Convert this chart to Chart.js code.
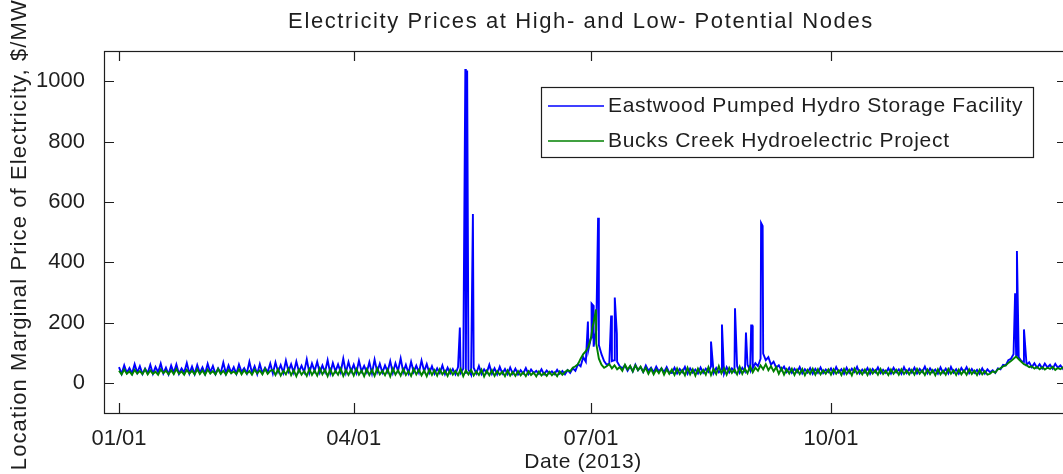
<!DOCTYPE html>
<html>
<head>
<meta charset="utf-8">
<script src="https://cdn.jsdelivr.net/npm/chart.js@4"></script>
<style>
  html, body { margin: 0; padding: 0; background: #fff; overflow: hidden; }
  canvas { display: block; }
</style>
</head>
<body>
<canvas id="chart" width="1070" height="474"></canvas>
<script>
// x axis is day-of-year 2013 (0 = Jan 1)
var tickDays   = [0, 90, 181, 273];
var tickLabels = ['01/01', '04/01', '07/01', '10/01'];
var yTicks     = [0, 200, 400, 600, 800, 1000];

var seriesNames = ['Eastwood Pumped Hydro Storage Facility', 'Bucks Creek Hydroelectric Project'];
var seriesColors = ['#0000ff', '#008000'];

// daily readings, $/MWh (Jan .. Dec)
var blueDaily = [
  52,30,58,33,49,31,62,34,55,29,47,32,60,30,53,35,64,31,50,28,57,33,61,30,48,34,66,31,54,29,59,
  33,51,30,63,35,56,29,48,32,67,31,58,34,52,30,61,36,49,31,70,33,55,29,62,32,50,35,64,
  31,68,36,59,33,74,38,62,34,71,37,57,35,78,33,64,39,70,34,58,36,75,32,66,38,61,35,80,34,69,37,
  60,33,73,38,56,35,68,31,77,36,63,34,58,37,72,33,65,39,81,35,60,32,70,36,57,34,74,38,62,33,
  55,30,48,32,58,29,50,31,46,28,52,33,47,30,44,27,50,31,56,29,45,33,60,30,48,28,53,31,46,29,51,
  30,47,28,42,31,49,29,44,32,40,30,45,28,41,31,38,29,43,30,39,28,42,33,48,40,62,55,85,70,110,
  150,120,175,125,95,72,60,65,72,75,70,55,48,58,40,55,38,60,42,52,36,57,40,50,35,54,38,48,36,52,34,
  33,50,31,46,35,53,30,48,34,44,31,51,33,47,36,55,32,49,35,45,30,52,34,48,37,56,33,50,38,60,42,
  48,65,55,80,97,75,85,60,70,50,58,42,54,36,50,33,47,35,52,31,45,34,49,30,46,33,51,32,44,35,
  48,31,52,34,45,30,50,33,47,36,53,31,44,34,49,30,46,35,51,32,43,33,48,31,50,35,45,30,52,33,47,
  34,50,31,46,36,54,32,48,35,44,30,51,33,47,31,53,34,45,30,49,36,52,32,46,33,43,30,48,31,45,
  35,42,33,48,45,60,58,75,80,95,90,85,72,70,60,68,52,65,50,62,48,64,51,60,47,63,50,58,46,61,52
];
var greenDaily = [
  40,28,44,30,38,27,43,31,39,29,45,28,41,30,37,27,44,32,40,28,42,29,46,30,38,27,43,31,40,28,45,
  29,41,27,44,31,39,28,46,30,40,27,43,32,38,29,45,28,42,30,39,27,44,31,41,28,46,30,40,
  43,26,45,24,40,28,47,25,42,22,44,27,39,23,46,26,41,24,48,28,43,22,45,25,40,27,47,23,42,26,44,
  24,46,27,41,22,45,26,43,23,48,28,40,25,44,21,47,27,42,24,45,26,39,23,46,28,43,25,41,22,44,
  26,42,24,45,28,40,23,44,27,39,25,46,22,41,28,43,24,38,26,44,21,40,25,42,23,39,27,37,22,41,24,
  36,23,39,25,35,22,38,26,34,21,37,24,33,23,36,25,34,22,38,27,36,42,38,50,55,62,80,95,105,120,
  150,200,130,80,60,50,55,62,48,58,45,52,40,60,44,56,38,58,42,54,36,50,30,46,28,44,32,48,27,45,30,
  44,26,48,29,42,25,50,28,45,24,47,30,43,27,52,26,46,29,55,31,48,27,50,33,44,28,53,30,47,32,55,
  35,50,40,58,45,62,42,55,38,52,30,48,27,45,31,47,26,44,29,46,25,43,30,47,27,45,28,42,30,44,
  27,45,30,42,26,46,29,43,25,47,30,41,28,44,26,45,31,42,27,46,29,40,26,44,30,43,27,45,29,41,28,
  43,27,46,30,41,26,44,29,42,25,45,28,40,27,46,30,42,26,44,28,41,27,45,29,40,26,43,28,39,27,
  30,38,34,45,48,55,58,66,72,80,87,78,70,62,58,52,55,47,53,45,52,44,50,46,53,43,49,45,52,44,48
];

// short price spikes (day of year, $/MWh)
var blueSpikeDays   = [130.7, 132.8, 133.5, 135.7, 179.8, 181.2, 181.8, 183.7, 188.7, 190.1, 190.9,
                       227.0, 231.2, 236.2, 240.4, 242.4, 242.8, 246.2, 246.8, 343.6, 344.3, 347.0];
var blueSpikeValues = [183, 1040, 1035, 560, 203, 263, 257, 547, 223, 283, 163,
                       137, 193, 247, 167, 190, 190, 530, 520, 297, 437, 177];
var greenSpikeDays   = [181.6, 182.9];
var greenSpikeValues = [185, 243];

var buildSeries = function(daily, spikeDays, spikeValues) {
  var pts = daily.map(function(v, d) { return {x: d, y: v}; });
  spikeDays.forEach(function(d, i) { pts.push({x: d, y: spikeValues[i]}); });
  pts.sort(function(a, b) { return a.x - b.x; });
  return pts;
};

var FONT = '"Liberation Sans", Arial, Helvetica, sans-serif';
var INK = '#1e1e1e';

var drawText = function(ctx, text, x, y, size, spacing, angle) {
  ctx.save();
  ctx.font = size + 'px ' + FONT;
  ctx.letterSpacing = spacing + 'px';
  ctx.fillStyle = INK;
  ctx.textAlign = 'center';
  ctx.textBaseline = 'middle';
  ctx.translate(x, y);
  if (angle) ctx.rotate(angle);
  ctx.fillText(text, 0, 0);
  ctx.restore();
};

// MATLAB-like box with inward ticks, legend and labels
var matlabFrame = {
  id: 'matlabFrame',
  afterDatasetsDraw: function(chart) {
    var ctx = chart.ctx, a = chart.chartArea;
    var xs = chart.scales.x, ys = chart.scales.y;
    var tl = 10;
    ctx.save();
    ctx.strokeStyle = INK;
    ctx.lineWidth = 1.2;
    ctx.strokeRect(a.left + 0.5, a.top + 0.5, a.right - a.left, a.bottom - a.top);
    ctx.beginPath();
    tickDays.forEach(function(d) {
      var px = Math.round(xs.getPixelForValue(d)) + 0.5;
      ctx.moveTo(px, a.bottom); ctx.lineTo(px, a.bottom - tl);
      ctx.moveTo(px, a.top); ctx.lineTo(px, a.top + tl);
    });
    yTicks.forEach(function(v) {
      var py = Math.round(ys.getPixelForValue(v)) + 0.5;
      ctx.moveTo(a.left, py); ctx.lineTo(a.left + tl, py);
      ctx.moveTo(a.right, py); ctx.lineTo(a.right - tl, py);
    });
    ctx.stroke();

    // legend
    var lx = 541, ly = 87, lw = 492, lh = 70;
    ctx.fillStyle = '#fff';
    ctx.fillRect(lx, ly, lw, lh);
    ctx.lineWidth = 1.2;
    ctx.strokeRect(lx + 0.5, ly + 0.5, lw, lh);
    var rows = [106, 141];
    chart.data.datasets.forEach(function(ds, i) {
      ctx.strokeStyle = ds.borderColor;
      ctx.lineWidth = 1.3;
      ctx.beginPath();
      ctx.moveTo(548, rows[i]); ctx.lineTo(604, rows[i]);
      ctx.stroke();
      ctx.save();
      ctx.font = '21px ' + FONT;
      ctx.letterSpacing = '0.7px';
      ctx.fillStyle = INK;
      ctx.textAlign = 'left';
      ctx.textBaseline = 'middle';
      ctx.fillText(ds.label, 608, rows[i]);
      ctx.restore();
    });
    ctx.restore();

    drawText(ctx, 'Electricity Prices at High- and Low- Potential Nodes', 581, 22, 22, 1.6);
    drawText(ctx, 'Date (2013)', 583, 462, 21, 0.6);
    drawText(ctx, 'Location Marginal Price of Electricity, $/MWh', 20, 228, 22, 1.1, -Math.PI / 2);
  }
};

var ctx = document.getElementById('chart').getContext('2d');
new Chart(ctx, {
  type: 'line',
  data: {
    datasets: [{
      label: seriesNames[0],
      data: buildSeries(blueDaily, blueSpikeDays, blueSpikeValues),
      borderColor: seriesColors[0],
      borderWidth: 1.9,
      order: 1
    }, {
      label: seriesNames[1],
      data: buildSeries(greenDaily, greenSpikeDays, greenSpikeValues),
      borderColor: seriesColors[1],
      borderWidth: 1.9,
      order: 0
    }]
  },
  options: {
    responsive: false,
    animation: false,
    devicePixelRatio: 1,
    events: [],
    layout: { padding: { top: 51, right: 3, left: 0, bottom: 0 } },
    elements: { point: { radius: 0 }, line: { tension: 0, borderJoinStyle: 'miter' } },
    plugins: { legend: { display: false }, tooltip: { enabled: false }, title: { display: false } },
    scales: {
      x: {
        type: 'linear',
        min: -5.75,
        max: 363.5,
        grid: { display: false },
        border: { display: false },
        afterBuildTicks: function(s) { s.ticks = tickDays.map(function(v) { return {value: v}; }); },
        afterFit: function(s) { s.height = 61; },
        ticks: {
          autoSkip: false,
          maxRotation: 0,
          padding: 5,
          color: INK,
          font: { family: FONT, size: 22 },
          callback: function(v) { return tickLabels[tickDays.indexOf(v)]; }
        }
      },
      y: {
        min: -100,
        max: 1100,
        grid: { display: false },
        border: { display: false },
        afterBuildTicks: function(s) { s.ticks = yTicks.map(function(v) { return {value: v}; }); },
        afterFit: function(s) { s.width = 104; },
        ticks: {
          padding: 11,
          color: INK,
          font: { family: FONT, size: 22 },
          callback: function(v) { return String(v); }
        }
      }
    }
  },
  plugins: [matlabFrame]
});
</script>
</body>
</html>
